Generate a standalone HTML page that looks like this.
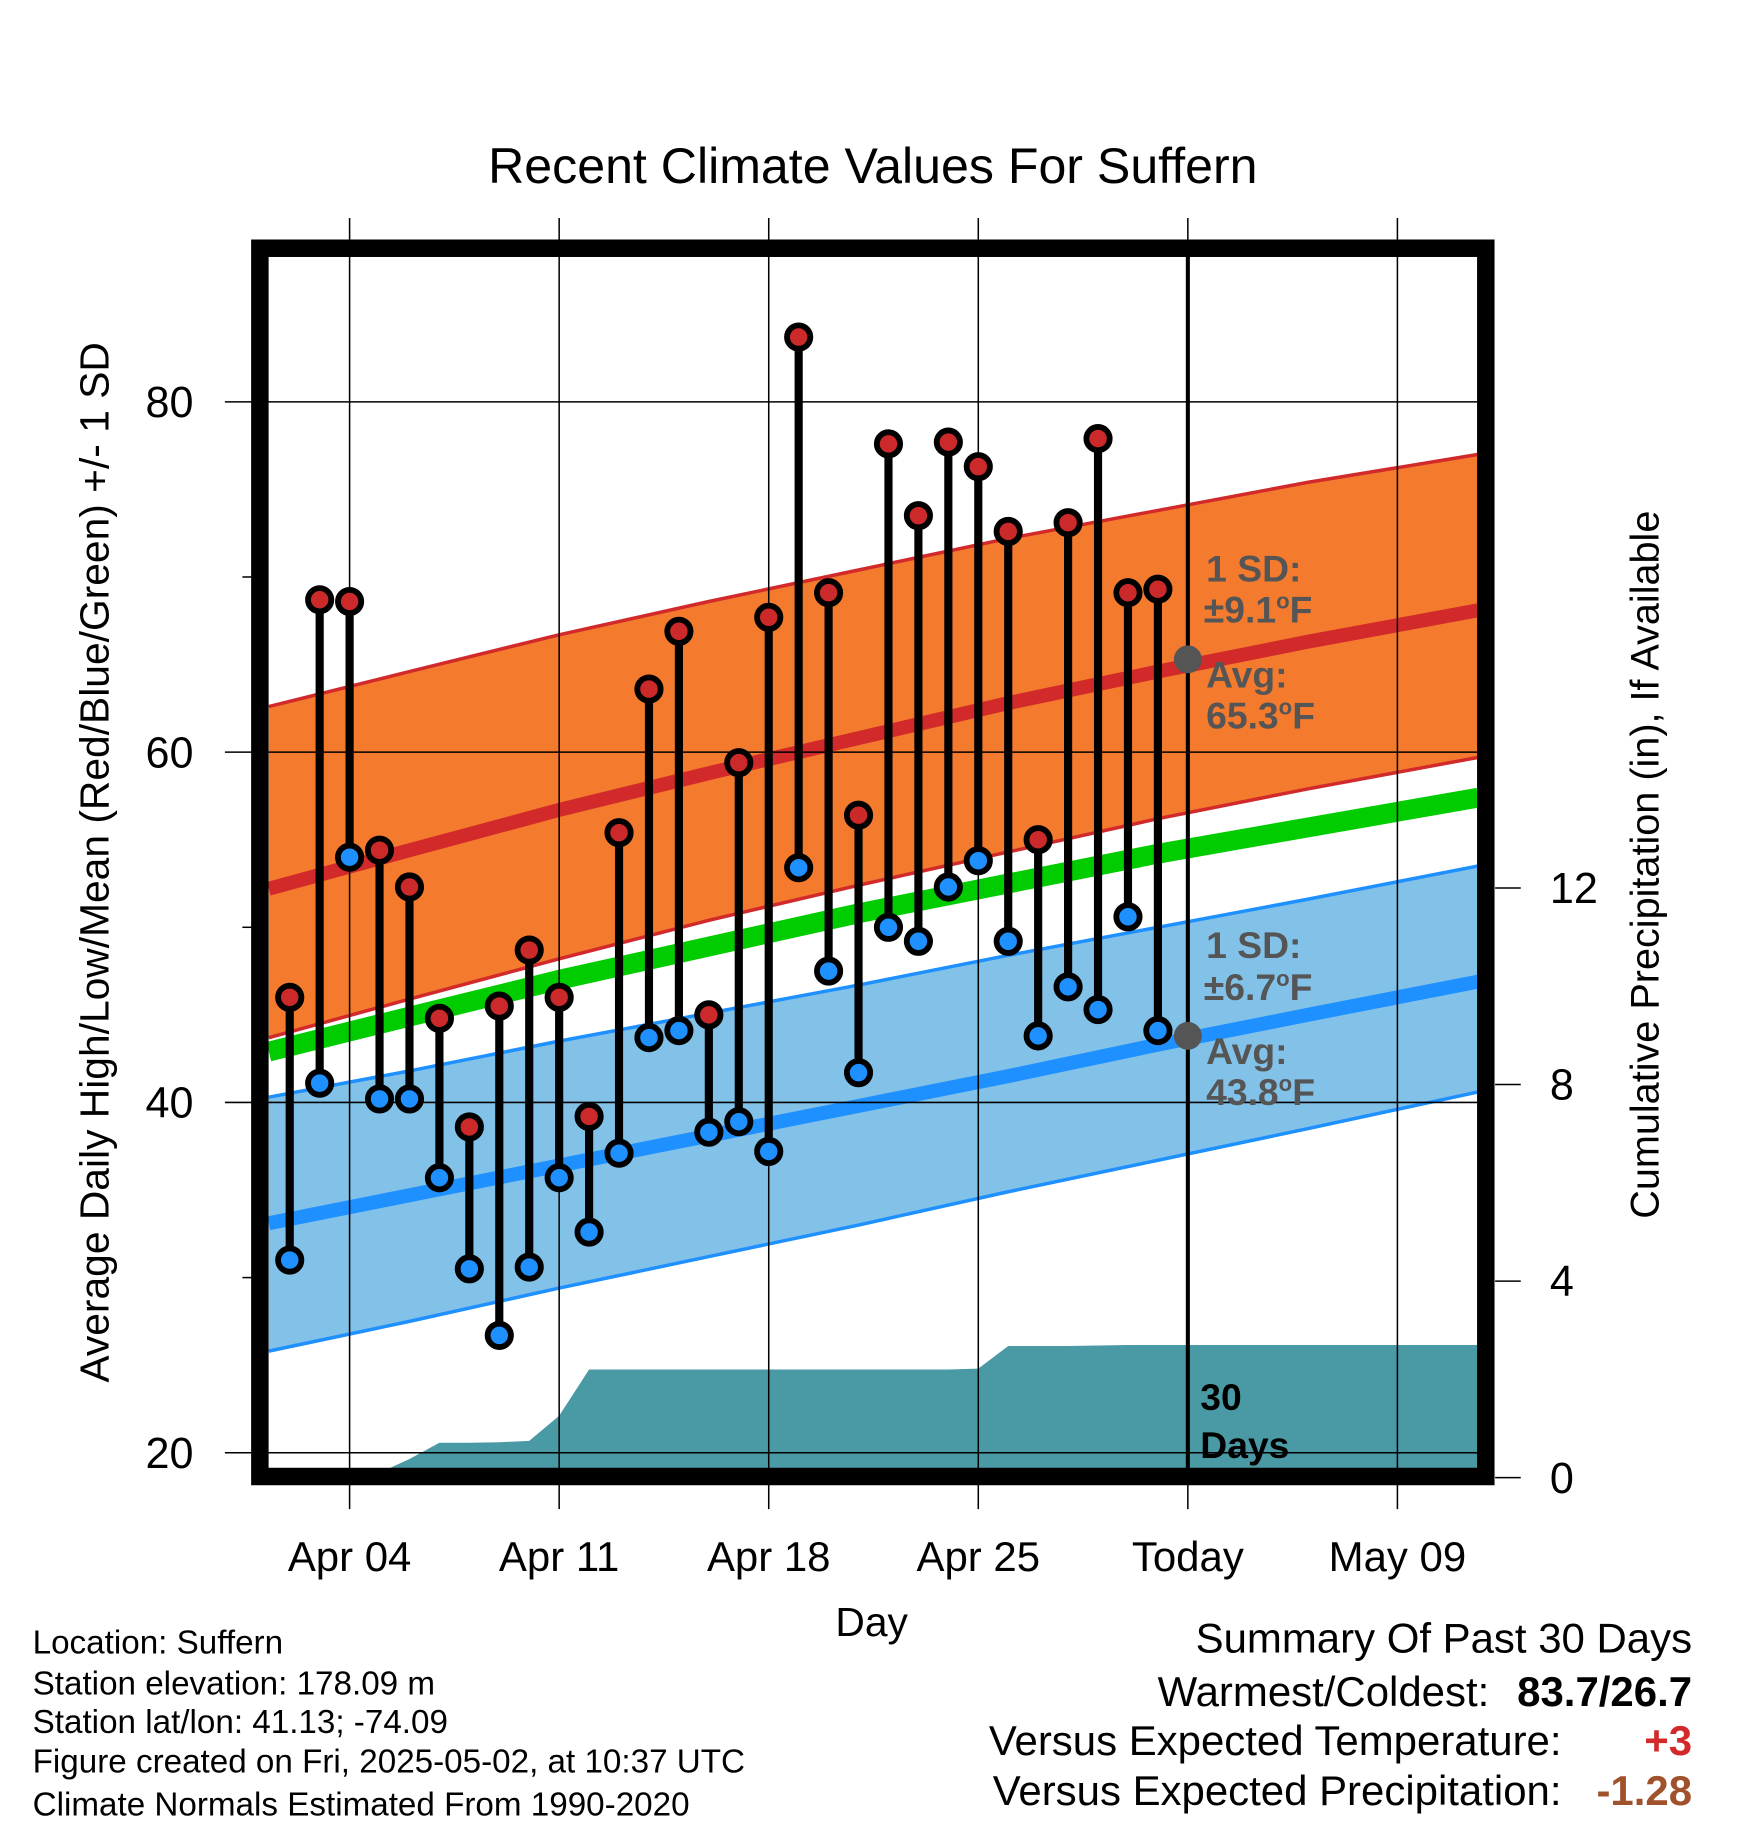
<!DOCTYPE html>
<html><head><meta charset="utf-8"><style>
html,body{margin:0;padding:0;background:#fff}
svg{display:block;font-family:"Liberation Sans",Arial,sans-serif}
</style></head><body>
<svg id="c" width="1748" height="1828" viewBox="0 0 1500 1568.6" xmlns="http://www.w3.org/2000/svg">
<defs><clipPath id="clip"><rect x="230" y="220" width="1038" height="1040"/></clipPath></defs>
<text x="749" y="157" font-size="43" text-anchor="middle">Recent Climate Values For Suffern</text>
<g id="bands" clip-path="url(#clip)"></g>
<g id="grid"></g>
<g id="marks" clip-path="url(#clip)"></g>
<rect x="223" y="213" width="1052" height="1054" fill="none" stroke="#000" stroke-width="15"/>
<g id="axes"></g>
<text transform="translate(93,740) rotate(-90)" font-size="35" text-anchor="middle">Average Daily High/Low/Mean (Red/Blue/Green) +/- 1 SD</text>
<text transform="translate(1423,742) rotate(-90)" font-size="34" text-anchor="middle">Cumulative Precipitation (in), If Available</text>
<text x="748" y="1404" font-size="35" text-anchor="middle">Day</text>
<g font-size="32" font-weight="bold" fill="#555">
<text x="1035" y="499">1 SD:</text><text x="1033" y="534">±9.1<tspan font-size="19" dy="-12">o</tspan><tspan dy="12">F</tspan></text>
<text x="1035" y="590">Avg:</text><text x="1035" y="625">65.3<tspan font-size="19" dy="-12">o</tspan><tspan dy="12">F</tspan></text>
</g>
<g font-size="32" font-weight="bold" fill="#555">
<text x="1035" y="822">1 SD:</text><text x="1033" y="858">±6.7<tspan font-size="19" dy="-12">o</tspan><tspan dy="12">F</tspan></text>
<text x="1035" y="913">Avg:</text><text x="1035" y="948">43.8<tspan font-size="19" dy="-12">o</tspan><tspan dy="12">F</tspan></text>
</g>
<g font-size="32" font-weight="bold"><text x="1030" y="1210">30</text><text x="1030" y="1251">Days</text></g>
<g font-size="28.5">
<text x="28" y="1419">Location: Suffern</text>
<text x="28" y="1454">Station elevation: 178.09 m</text>
<text x="28" y="1487">Station lat/lon: 41.13; -74.09</text>
<text x="28" y="1521">Figure created on Fri, 2025-05-02, at 10:37 UTC</text>
<text x="28" y="1558">Climate Normals Estimated From 1990-2020</text>
</g>
<g font-size="36">
<text x="1452" y="1418" text-anchor="end">Summary Of Past 30 Days</text>
<text x="1278" y="1464" text-anchor="end">Warmest/Coldest:</text>
<text x="1452" y="1464" text-anchor="end" font-weight="bold">83.7/26.7</text>
<text x="1340" y="1506" text-anchor="end">Versus Expected Temperature:</text>
<text x="1452" y="1506" text-anchor="end" font-weight="bold" fill="#d22a2a">+3</text>
<text x="1340" y="1549" text-anchor="end">Versus Expected Precipitation:</text>
<text x="1452" y="1549" text-anchor="end" font-weight="bold" fill="#a0522d">-1.28</text>
</g>
</svg>
<script>
// day index: 0 = Apr 04
const obsDays = [-2,-1,0,1,2,3,4,5,6,7,8,9,10,11,12,13,14,15,16,17,18,19,20,21,22,23,24,25,26,27];
const highs = [46.0,68.7,68.6,54.4,52.3,44.8,38.6,45.5,48.7,46.0,39.2,55.4,63.6,66.9,45.0,59.4,67.7,83.7,69.1,56.4,77.6,73.5,77.7,76.3,72.6,55.0,73.1,77.9,69.1,69.3];
const lows = [31.0,41.1,54.0,40.2,40.2,35.7,30.5,26.7,30.6,35.7,32.6,37.1,43.7,44.1,38.3,38.9,37.2,53.4,47.5,41.7,50.0,49.2,52.3,53.8,49.2,43.8,46.6,45.3,50.6,44.1];
const precip = [0,0,0.02,0.1,0.38,0.71,0.71,0.72,0.75,1.26,2.2,2.2,2.2,2.2,2.2,2.2,2.2,2.2,2.2,2.2,2.2,2.2,2.2,2.22,2.68,2.68,2.68,2.69,2.7,2.7];
const normDays = [-2.7,2,7,12,17,22,27,32,37.7];
const hiUpper = [62.6,64.6,66.7,68.6,70.4,72.2,73.8,75.4,77.0];
const hiMean = [52.2,54.4,56.7,58.8,60.8,62.8,64.6,66.3,68.1];
const hiLower = [43.7,45.9,48.2,50.4,52.4,54.3,56.2,57.9,59.7];
const meanT = [42.9,44.9,47.0,48.9,50.8,52.5,54.2,55.7,57.4];
const loUpper = [40.3,41.8,43.5,45.1,46.7,48.4,50.0,51.6,53.5];
const loMean = [33.1,34.7,36.4,38.1,39.8,41.5,43.3,45.0,46.9];
const loLower = [25.8,27.5,29.4,31.2,33.0,34.9,36.7,38.5,40.6];
const yTicks = [20,40,60,80];
const yMinor = [30,50,70];
const y2Ticks = [0,4,8,12];
const xTickDays = [0,7,14,21,28,35];
const xTickLabels = ["Apr 04","Apr 11","Apr 18","Apr 25","Today","May 09"];
const todayDay = 28, todayHigh = 65.3, todayLow = 43.8;

const NS="http://www.w3.org/2000/svg";
const X = d => 300 + d*25.69;
const Y = t => 946 - (t-40)*15.03;
const P = p => 1268 - p*42.17;
function el(tag, attrs, parent){const e=document.createElementNS(NS,tag);for(const k in attrs)e.setAttribute(k,attrs[k]);document.getElementById(parent).appendChild(e);return e;}
const pts = arr => normDays.map((d,i)=>X(d)+','+Y(arr[i])).join(' ');
function band(up,lo,fill,stroke,name){
  const p=el('polygon',{points:pts(up)+' '+normDays.map((d,i)=>[X(d),Y(lo[i])]).reverse().map(a=>a.join(',')).join(' '),fill:fill,stroke:'none'},'bands');
  
  
  [up,lo].forEach(a=>{const l=el('polyline',{points:pts(a),fill:'none',stroke:stroke,'stroke-width':3},'bands');
    
    });
}
band(hiUpper,hiLower,'#f47b2e','#d22a2a','high-sd-band');
band(loUpper,loLower,'#82c2e8','#1e90ff','low-sd-band');
[[hiMean,'#d22a2a',12,'normal-high-line'],[meanT,'#00cc00',17,'normal-mean-line'],[loMean,'#1e90ff',12,'normal-low-line']].forEach(([a,c,w,n])=>{
  const l=el('polyline',{points:pts(a),fill:'none',stroke:c,'stroke-width':w},'bands');
  
  
});
let pp = X(-2.7)+','+P(0)+' ';
pp += obsDays.map((d,i)=>X(d)+','+P(precip[i])).join(' ');
pp += ' '+X(37.7)+','+P(precip[precip.length-1])+' '+X(37.7)+','+P(0);
const pa=el('polygon',{points:pp,fill:'#4a9aa5'},'bands');


yTicks.forEach(t=>{const l=el('line',{x1:193,x2:1268,y1:Y(t),y2:Y(t),stroke:'#000','stroke-width':1.3},'grid');
  
  });
xTickDays.forEach(d=>{const l=el('line',{x1:X(d),x2:X(d),y1:187,y2:1295,stroke:'#000','stroke-width':1.3},'grid');
  
  });
obsDays.forEach((d,i)=>{
  const s=el('line',{x1:X(d),x2:X(d),y1:Y(highs[i]),y2:Y(lows[i]),stroke:'#000','stroke-width':7},'marks');
  
  
});
obsDays.forEach((d,i)=>{
  const h=el('circle',{cx:X(d),cy:Y(highs[i]),r:10,fill:'#cc2a2a',stroke:'#000','stroke-width':5},'marks');
  
  
  const l=el('circle',{cx:X(d),cy:Y(lows[i]),r:10,fill:'#1e90ff',stroke:'#000','stroke-width':5},'marks');
  
  
});
const tl=el('line',{x1:X(todayDay),x2:X(todayDay),y1:220,y2:1260,stroke:'#000','stroke-width':3.5},'marks');


[todayHigh,todayLow].forEach(t=>{const c=el('circle',{cx:X(todayDay),cy:Y(t),r:12,fill:'#555'},'marks');
  
  });
yTicks.forEach(t=>{const tx=el('text',{x:166,y:Y(t)+13,'font-size':37,'text-anchor':'end'},'axes');tx.textContent=t;
  
  });
yMinor.forEach(t=>{const l=el('line',{x1:208,x2:218,y1:Y(t),y2:Y(t),stroke:'#000','stroke-width':1.3},'axes');
  
  });
y2Ticks.forEach(p=>{
  const l=el('line',{x1:1283,x2:1305,y1:P(p),y2:P(p),stroke:'#000','stroke-width':1.3},'axes');
  
  
  const tx=el('text',{x:1330,y:P(p)+13,'font-size':37},'axes');tx.textContent=p;
  
  
});
xTickDays.forEach((d,i)=>{const tx=el('text',{x:X(d),y:1348,'font-size':36,'text-anchor':'middle'},'axes');tx.textContent=xTickLabels[i];
  
  });
</script>
</body></html>
